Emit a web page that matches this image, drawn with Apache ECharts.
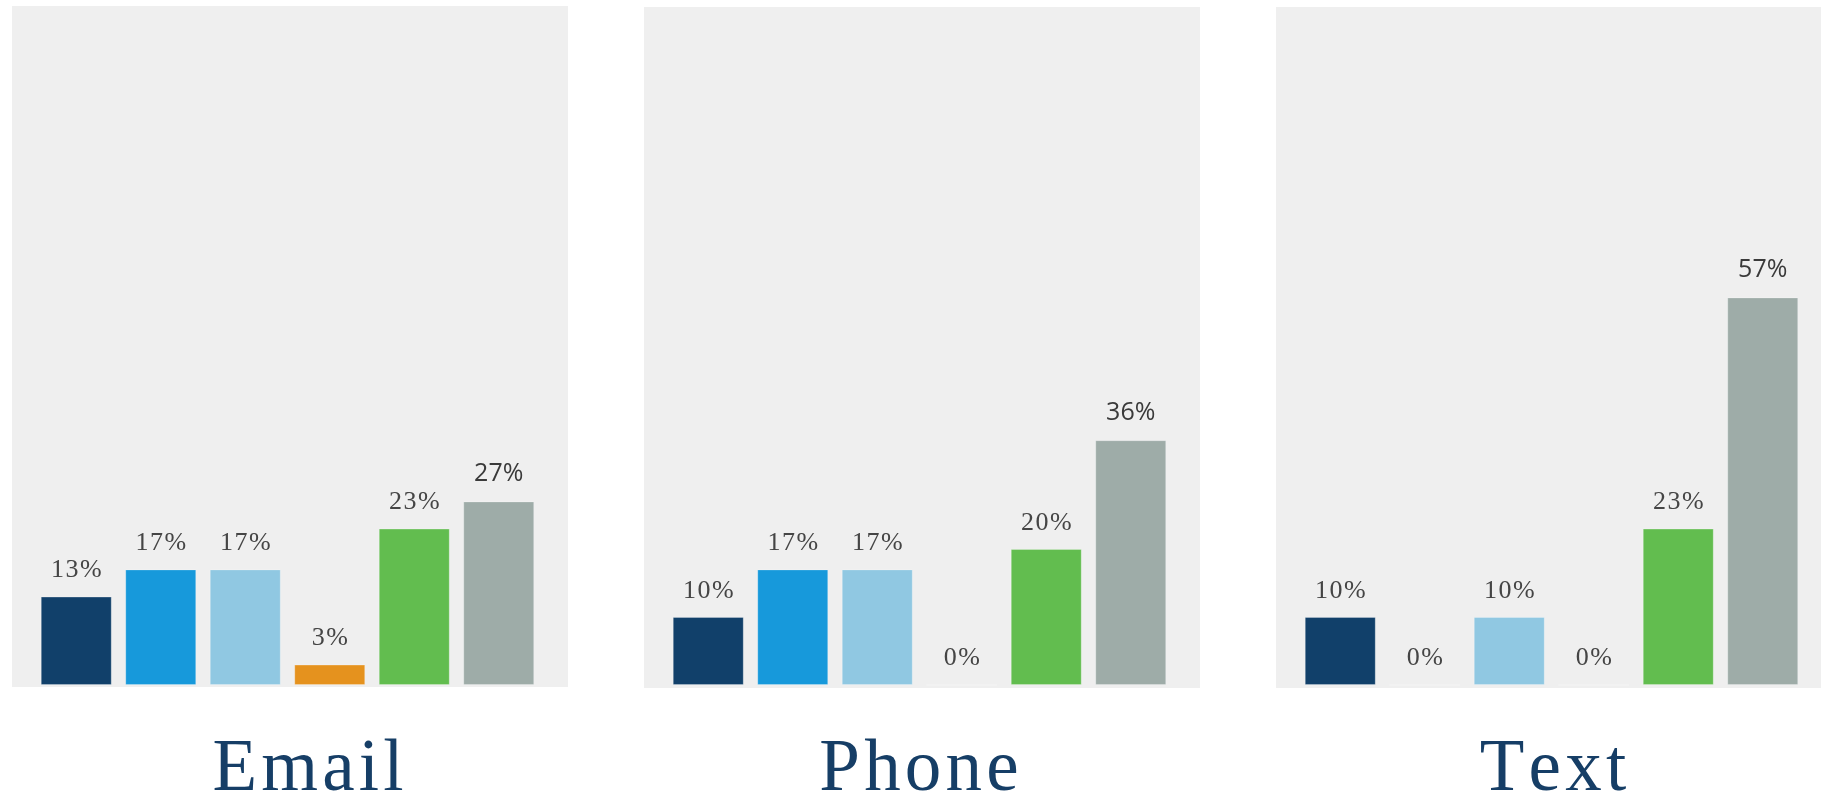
<!DOCTYPE html>
<html>
<head>
<meta charset="utf-8">
<script src="https://cdn.jsdelivr.net/npm/echarts@6/dist/echarts.min.js"></script>
<style>
  html, body { margin: 0; padding: 0; background: #ffffff; }
  #chart { width: 1821px; height: 798px; }
</style>
</head>
<body>
<div id="chart"></div>
<script>
// Response options (same order in every channel panel)
const categories = ['Option A', 'Option B', 'Option C', 'Option D', 'Option E', 'Option F'];
const barColors = ['#11406a', '#1799db', '#90c8e2', '#e5921e', '#62bd4f', '#9eaca8'];

// Channel names shown under each panel
const channels = ['Email', 'Phone', 'Text'];

// Share of responses per option, in percent
const emailValues = [13, 17, 17, 3, 23, 27];
const phoneValues = [10, 17, 17, 0, 20, 36];
const textValues  = [10, 0, 10, 0, 23, 57];

const seriesValues = [emailValues, phoneValues, textValues];

// Panel geometry
const panelLeft = [12, 644, 1276];
const panelTop = [6, 7, 7];
const panelWidth = 556;
const panelHeight = 681;
const barInset = 22;      // plot area starts this far inside the panel
const plotWidth = 507;
const plotTop = 5;
const plotHeight = 680;
const titleCenter = [308, 919, 1553];

const SERIF = '"Liberation Serif", "DejaVu Serif", serif';
const SANS = '"Open Sans", "Liberation Sans", sans-serif';

// Wrap each character in a rich fragment so the text gets a little tracking
function spaced(str, key) {
  return str.split('').map(ch => '{' + key + '|' + ch + '}').join('');
}

const chart = echarts.init(document.getElementById('chart'), null, { renderer: 'canvas' });

const grids = [], xAxes = [], yAxes = [], series = [], graphics = [];

seriesValues.forEach((vals, p) => {
  grids.push({ left: panelLeft[p] + barInset, top: plotTop, width: plotWidth, height: plotHeight, containLabel: false });
  xAxes.push({
    type: 'category', gridIndex: p, data: categories,
    axisLine: { show: false }, axisTick: { show: false }, axisLabel: { show: false }, splitLine: { show: false }
  });
  yAxes.push({
    type: 'value', gridIndex: p, min: 0, max: 100,
    axisLine: { show: false }, axisTick: { show: false }, axisLabel: { show: false }, splitLine: { show: false }
  });

  const maxIdx = vals.indexOf(Math.max(...vals));
  series.push({
    type: 'bar', xAxisIndex: p, yAxisIndex: p,
    barCategoryGap: '16%',
    silent: true,
    data: vals.map((v, i) => {
      const item = {
        value: v,
        itemStyle: { color: barColors[i], borderColor: 'rgba(255,255,255,0.25)', borderWidth: 1 }
      };
      if (i === maxIdx) {
        item.label = { fontFamily: SANS, fontSize: 25, color: '#3a3a3a', distance: 15 };
      }
      return item;
    }),
    label: {
      show: true, position: 'top', distance: 13,
      formatter: (d) => d.dataIndex === maxIdx ? d.value + '%' : spaced(d.value + '%', 'c'),
      fontFamily: SERIF,
      fontSize: 26, color: '#454545',
      rich: {
        c: { fontFamily: SERIF, fontSize: 26, color: '#454545', padding: [0, 0.75, 0, 0.75] }
      }
    }
  });

  graphics.push({
    type: 'rect', z: -10, silent: true,
    shape: { x: panelLeft[p], y: panelTop[p], width: panelWidth, height: panelHeight },
    style: { fill: '#efefef' }
  });
  graphics.push({
    type: 'text', silent: true,
    x: titleCenter[p], y: 771,
    style: {
      text: spaced(channels[p], 't'),
      rich: {
        t: { fontFamily: SERIF, fontSize: 73, color: '#163e66', padding: [0, 2.1, 0, 2.1] }
      },
      fill: '#163e66',
      font: '73px ' + SERIF,
      textAlign: 'center', textVerticalAlign: 'middle'
    }
  });
});

chart.setOption({
  animation: false,
  backgroundColor: '#ffffff',
  grid: grids,
  xAxis: xAxes,
  yAxis: yAxes,
  series: series,
  graphic: graphics
});
</script>
</body>
</html>
